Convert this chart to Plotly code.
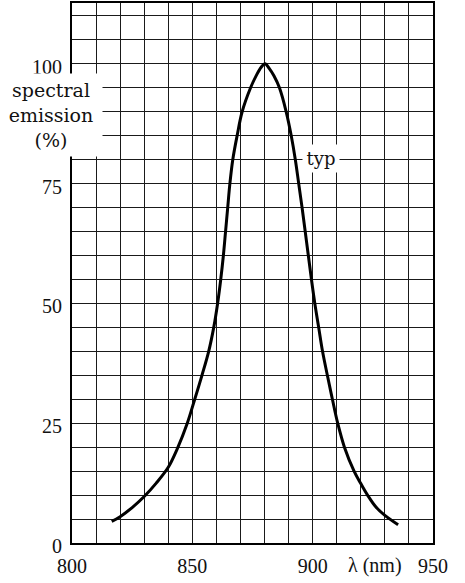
import plotly.graph_objects as go

# Curve data (wavelength in nm, relative emission in %)
wavelength = [816.5, 820, 825, 830, 835, 840, 843.6, 847.9, 851, 854, 856.8, 858.9,
              860.5, 861.8, 862.9, 863.8, 864.7, 865.6, 866.8, 868.6, 870.7, 874.2,
              876.5, 878.6, 880.2, 882, 883.9, 886.2, 889, 891.1, 892.8, 894.2,
              895.6, 896.9, 898.2, 899.5, 900.9, 902.5, 904.1, 906.1, 908.2, 910.4,
              913.2, 917.2, 920, 922.8, 926.3, 930, 935.5]
emission = [4.5, 5.5, 7.4, 9.7, 12.5, 15.8, 19.5, 25, 30, 35, 40, 45,
            50, 55, 60, 65, 70, 75, 80, 85, 90, 95,
            97.5, 99.3, 100, 99, 97.5, 95, 90, 85, 80, 75,
            70, 65, 60, 55, 50, 45, 40, 35, 30, 25,
            20, 15, 12.4, 10, 7.5, 5.75, 3.8]

x_grid = list(range(800, 951, 10))
x_labels = {800: "800", 850: "850", 900: "900", 950: "950"}
y_grid = list(range(0, 111, 5))
y_labels = {0: "0", 25: "25", 50: "50", 75: "75", 100: "100"}

NUM_FONT = dict(family="Liberation Serif", size=20, color="#111")
TXT_FONT = dict(family="DejaVu Serif", size=19, color="#111")

fig = go.Figure()
fig.add_trace(go.Scatter(
    x=wavelength, y=emission, mode="lines",
    line=dict(color="#000", width=3, shape="spline", smoothing=1.0),
    hoverinfo="skip", showlegend=False,
))

fig.update_layout(
    width=465, height=583,
    margin=dict(l=72, r=32, t=1, b=40),
    paper_bgcolor="white", plot_bgcolor="white",
    showlegend=False,
    xaxis=dict(
        range=[800, 950], tickmode="array", tickvals=x_grid,
        ticktext=[x_labels.get(v, "") for v in x_grid],
        showgrid=True, gridcolor="#1a1a1a", gridwidth=1,
        showline=True, linecolor="#000", linewidth=2, mirror=True,
        zeroline=False, ticks="", tickfont=NUM_FONT, ticklabelstandoff=4,
    ),
    yaxis=dict(
        range=[0, 112.7], tickmode="array", tickvals=y_grid,
        ticktext=[y_labels.get(v, "") for v in y_grid],
        showgrid=True, gridcolor="#1a1a1a", gridwidth=1,
        showline=True, linecolor="#000", linewidth=2, mirror=True,
        zeroline=False, ticks="", tickfont=NUM_FONT, ticklabelstandoff=4,
        ticklabelshift=3,
    ),
)

# y-axis title box (white background hides grid and axis line)
fig.add_annotation(
    xref="paper", yref="paper", x=-0.058, y=0.793,
    xanchor="center", yanchor="middle",
    text="spectral<br>emission<br>(%)", showarrow=False,
    font=TXT_FONT, align="center", valign="middle",
    width=100, height=80, bgcolor="white",
)
# curve label
fig.add_annotation(
    xref="x", yref="y", x=903.4, y=80.3, xanchor="center", yanchor="middle",
    text="typ", showarrow=False,
    font=dict(family="DejaVu Serif", size=18, color="#111"),
    width=34, height=25, bgcolor="white",
)
# x-axis unit label
fig.add_annotation(
    xref="x", yref="paper", x=926, y=0, yanchor="middle", yshift=-22,
    text="λ (nm)", showarrow=False, font=NUM_FONT,
)

fig.write_html("out.html", config={"displayModeBar": False},
               post_script="document.body.style.margin='0';")
